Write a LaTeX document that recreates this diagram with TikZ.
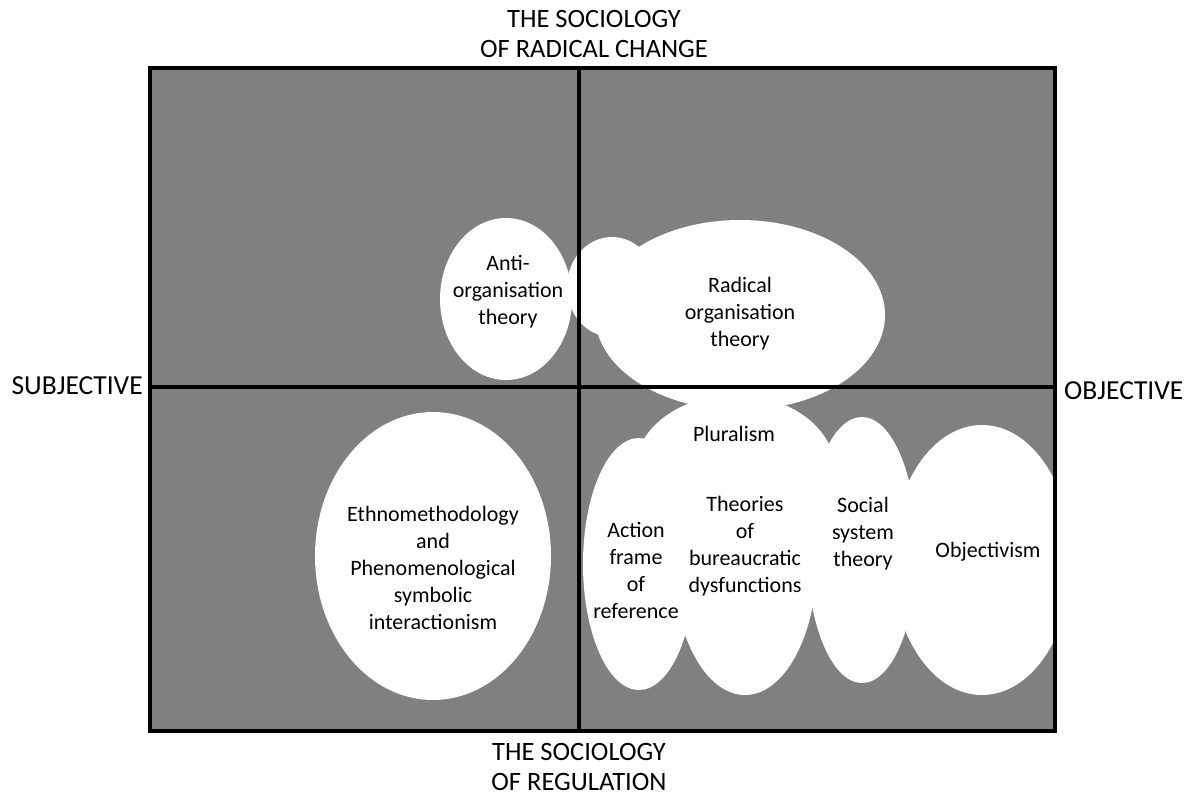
\documentclass[tikz,border=0pt]{standalone}
\usepackage{fontspec}
\setmainfont{Carlito}
\definecolor{quadgray}{HTML}{808080}
\begin{document}
\begin{tikzpicture}[x=1pt,y=-1pt,
  quadline/.style={line width=3.2pt, draw=black},
  heading/.style={font=\fontsize{26.5}{30}\selectfont, align=center, inner sep=0pt},
  sidehead/.style={font=\fontsize{27.5}{30}\selectfont, inner sep=0pt},
  blobtext/.style={font=\fontsize{22}{27}\selectfont, align=center, inner sep=0pt},
  blob/.style={fill=white}]
\useasboundingbox (0,0) rectangle (1200,796);

% frame corners and axis ends
\coordinate (nw) at (150,68);
\coordinate (se) at (1055,731);
\coordinate (top) at (579,68);
\coordinate (bottom) at (579,731);
\coordinate (left) at (150,387);
\coordinate (right) at (1055,387);

% grey field
\fill[quadgray] (nw) rectangle (se);

% white regions, kept inside the frame
\begin{scope}
  \clip (nw) rectangle (se);
  % anti-organisation theory
  \fill[blob] (506,299) ellipse [x radius=66, y radius=81];
  % radical organisation theory (bump + main body)
  \fill[blob] (612,287) ellipse [x radius=45, y radius=50];
  \fill[blob] (740,315) ellipse [x radius=145, y radius=95];
  % ethnomethodology
  \fill[blob] (433,556) ellipse [x radius=118, y radius=144];
  % pluralism cluster
  \fill[blob] (735,470) ellipse [x radius=100, y radius=75];
  \fill[blob] (639,564) ellipse [x radius=56, y radius=126];
  \fill[blob] (745,560) ellipse [x radius=72, y radius=135];
  \fill[blob] (862,550) ellipse [x radius=55, y radius=133];
  \fill[blob] (982,560) ellipse [x radius=90, y radius=135];
\end{scope}

% frame and axes
\draw[quadline] (nw) rectangle (se);
\draw[quadline] (top) -- (bottom);
\draw[quadline] (left) -- (right);

% axis labels
\node[heading] (radical) at (594,34) {THE SOCIOLOGY\\OF RADICAL CHANGE};
\node[heading] (regulation) at (579,767) {THE SOCIOLOGY\\OF REGULATION};
\node[sidehead, anchor=east] (subjective) at (143,386) {SUBJECTIVE};
\node[sidehead, anchor=west] (objective) at (1064,391) {OBJECTIVE};

% paradigm labels
\node[blobtext] (antiorg) at (508,292) {Anti-\\organisation\\theory};
\node[blobtext] (radorg) at (740,314) {Radical\\organisation\\theory};
\node[blobtext] (ethno) at (433,568) {Ethnomethodology\\and\\Phenomenological\\symbolic\\interactionism};
\node[blobtext] (pluralism) at (734,434) {Pluralism};
\node[blobtext] (action) at (636,570) {Action\\frame\\of\\reference};
\node[blobtext] (bureau) at (745,546) {Theories\\of\\bureaucratic\\dysfunctions};
\node[blobtext] (social) at (863,534) {Social\\system\\theory};
\node[blobtext] (objectivism) at (988,552) {Objectivism};
\end{tikzpicture}
\end{document}
